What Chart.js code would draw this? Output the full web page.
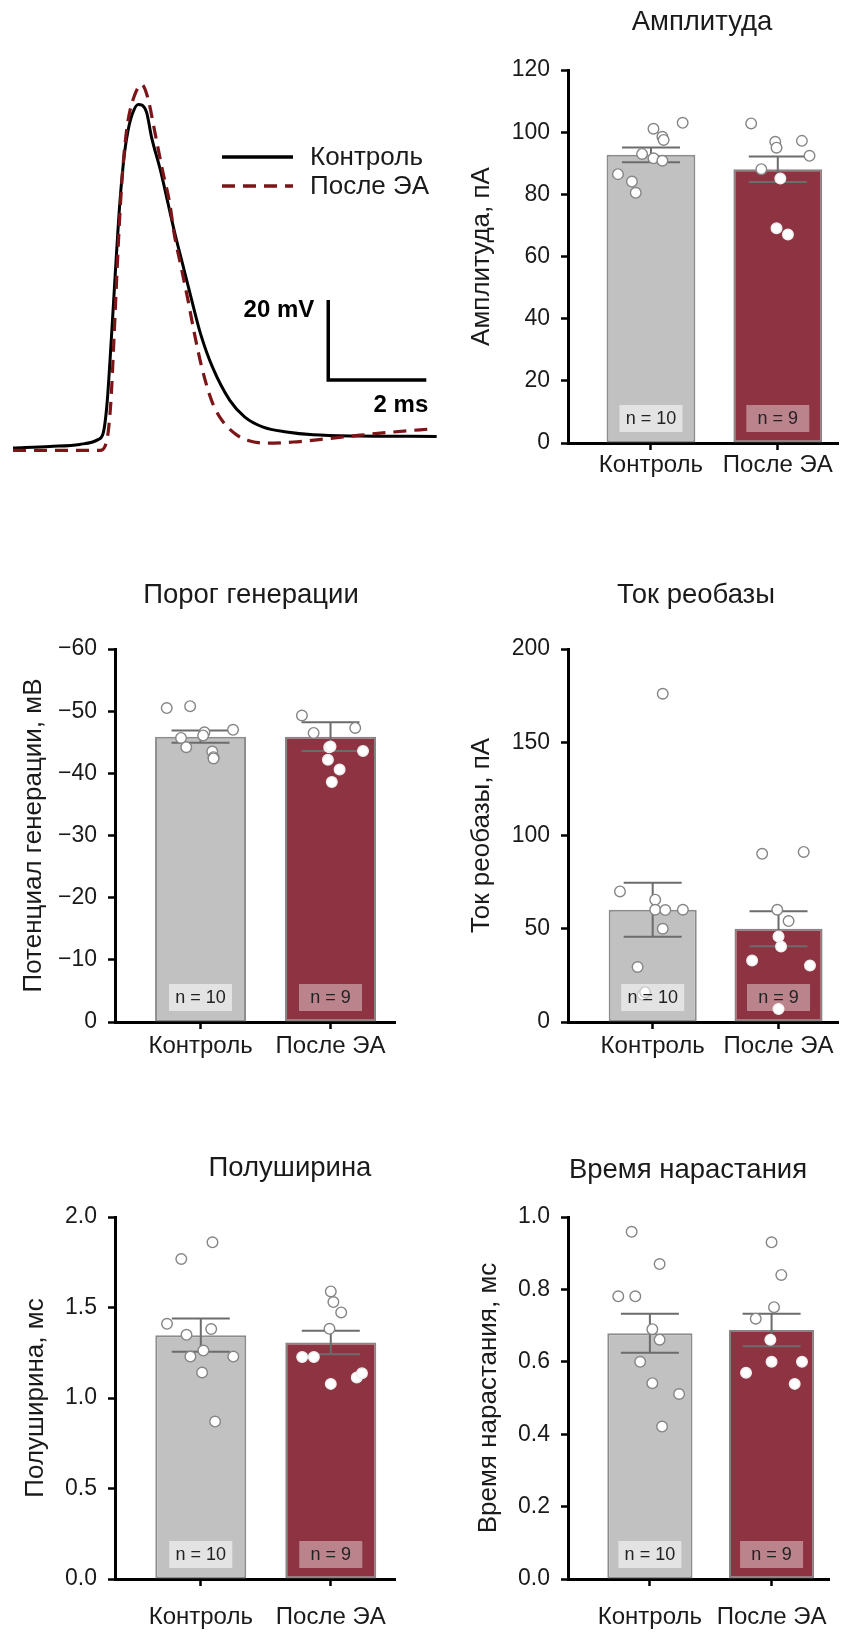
<!DOCTYPE html>
<html>
<head>
<meta charset="utf-8">
<script src="https://cdn.jsdelivr.net/npm/chart.js@4.4.1/dist/chart.umd.min.js"></script>
<style>
html, body { margin: 0; padding: 0; background: #fff; }
#page { position: relative; width: 845px; height: 1640px; overflow: hidden; background: #fff; }
#page canvas { position: absolute; }
</style>
</head>
<body>
<div id="page">
  <canvas id="trace"></canvas>
  <canvas id="amp"></canvas>
  <canvas id="thr"></canvas>
  <canvas id="rheo"></canvas>
  <canvas id="hw"></canvas>
  <canvas id="rise"></canvas>
</div>
<script>
// ---- data ----
const categories = ['Контроль', 'После ЭА'];
const nCounts = [10, 9];

// action potential traces, time in ms, voltage in mV
const controlTraceT = [0, 0.75, 1.36, 1.735, 1.837, 1.918, 2.008, 2.090, 2.178, 2.273, 2.347, 2.437, 2.551, 2.722, 2.824, 3.008, 3.163, 3.31, 3.48, 3.65, 3.824, 4.069, 4.422, 4.729, 5.102, 5.580, 6.122, 7.076, 8.641];
const controlTraceV = [-70, -69.6, -69.1, -67.9, -66.4, -58.9, -42.3, -25.6, -8.9, 3.6, 9.4, 13.6, 15.9, 14.0, 7.8, -0.6, -8.9, -16.8, -25.0, -33.3, -41.4, -49.8, -58.1, -62.3, -64.8, -66.0, -66.7, -67.0, -67.1];
const afterTraceT = [0, 1.769, 1.906, 1.994, 2.061, 2.122, 2.192, 2.265, 2.347, 2.469, 2.620, 2.743, 2.912, 3.049, 3.198, 3.29, 3.43, 3.57, 3.70, 3.85, 4.049, 4.218, 4.524, 4.796, 5.171, 5.714, 6.396, 7.076, 7.755, 8.571];
const afterTraceV = [-70.6, -70.6, -68.5, -58.9, -42.3, -25.6, -8.9, 3.6, 11.9, 17.8, 20.9, 17.8, 7.8, -0.6, -8.9, -16.6, -24.8, -33.1, -41.4, -49.8, -58.1, -62.3, -66.4, -68.1, -68.8, -68.5, -67.7, -66.8, -66.0, -65.2];
const scaleBarOrigin = [6.43, -53];   // ms, mV
const scaleBarSize = [2, 20];         // 2 ms, 20 mV

// Амплитуда, пА
const ampMean = [92.7, 88.1];
const ampSem = [2.4, 4.1];
const ampControl = [86.5, 84.1, 80.5, 93.0, 101.1, 98.5, 97.5, 91.6, 90.8, 103.0];
const ampAfter = [102.8, 96.9, 95.0, 97.2, 92.4, 88.1, 85.1, 69.1, 67.1];
const ampControlJitter = [-0.26, -0.15, -0.12, -0.07, 0.02, 0.09, 0.10, 0.02, 0.09, 0.25];
const ampAfterJitter = [-0.21, -0.02, -0.01, 0.19, 0.25, -0.13, 0.02, -0.01, 0.08];

// Порог генерации, мВ
const thrMean = [-45.9, -45.9];
const thrSem = [1.0, 2.3];
const thrControl = [-50.5, -50.8, -46.6, -47.0, -45.7, -46.1, -44.2, -43.5, -42.6, -42.4];
const thrAfter = [-49.3, -46.5, -47.3, -44.2, -43.6, -42.2, -40.6, -38.6, -44.3];
const thrControlJitter = [-0.26, -0.08, 0.03, 0.25, -0.15, 0.02, -0.11, 0.09, 0.10, 0.10];
const thrAfterJitter = [-0.22, -0.13, 0.19, -0.01, 0.25, -0.02, 0.07, 0.01, 0.0];

// Ток реобазы, пА
const rheoMean = [60.2, 50.0];
const rheoSem = [14.5, 9.4];
const rheoControl = [176.0, 70.0, 65.6, 60.2, 60.0, 60.2, 50.0, 29.5, 14.6, 16.0];
const rheoAfter = [90.2, 91.2, 60.2, 54.1, 45.9, 40.5, 33.0, 30.3, 7.0];
const rheoControlJitter = [0.08, -0.26, 0.02, 0.02, 0.10, 0.24, 0.08, -0.12, -0.08, -0.06];
const rheoAfterJitter = [-0.13, 0.20, -0.01, 0.08, 0, 0.02, -0.21, 0.25, 0];

// Полуширина, мс
const hwMean = [1.347, 1.307];
const hwSem = [0.092, 0.065];
const hwControl = [1.768, 1.860, 1.410, 1.349, 1.381, 1.262, 1.229, 1.229, 1.141, 0.870];
const hwAfter = [1.589, 1.530, 1.473, 1.382, 1.226, 1.226, 1.113, 1.137, 1.078];
const hwControlJitter = [-0.15, 0.09, -0.26, -0.11, 0.08, 0.02, -0.08, 0.25, 0.01, 0.11];
const hwAfterJitter = [0, 0.02, 0.08, -0.01, -0.22, -0.13, 0.20, 0.24, 0];

// Время нарастания, мс
const riseMean = [0.679, 0.688];
const riseSem = [0.054, 0.045];
const riseControl = [0.959, 0.870, 0.781, 0.781, 0.690, 0.661, 0.600, 0.541, 0.511, 0.421];
const riseAfter = [0.930, 0.840, 0.751, 0.719, 0.661, 0.570, 0.600, 0.600, 0.539];
const riseControlJitter = [-0.15, 0.08, -0.26, -0.12, 0.02, 0.08, -0.08, 0.02, 0.24, 0.10];
const riseAfterJitter = [0, 0.08, 0.02, -0.13, -0.01, -0.21, 0, 0.25, 0.19];

// ---- styling ----
const FONT = 'Arial, "Liberation Sans", sans-serif';
const barFill = ['#c1c1c1', '#8e3341'];
const barEdge = ['#8c8c8c', '#858585'];
const nBoxFill = ['rgba(255,255,255,0.55)', 'rgba(255,255,255,0.4)'];
const errColor = '#6c6c6c';
const Y_TITLE_SIZE = 26;

Chart.defaults.font.family = FONT;
Chart.defaults.color = '#1a1a1a';

// page layout of each bar panel (pixels)
const panels = [
  { id: 'amp', title: 'Амплитуда', yTitle: 'Амплитуда, пА',
    mean: ampMean, sem: ampSem, groups: [ampControl, ampAfter], jitter: [ampControlJitter, ampAfterJitter],
    yMin: 0, yMax: 120, yStep: 20, decimals: 0, reverse: false,
    box: { left: 440, top: 0, width: 405, height: 490 },
    axisX: 568, plotTop: 70, plotBottom: 443, xRight: 845, xMin: -0.654, xMax: 1.477,
    titleX: 702, titleY: 22, yTitleX: 482, catPad: 1 },
  { id: 'thr', title: 'Порог генерации', yTitle: 'Потенциал генерации, мВ',
    mean: thrMean, sem: thrSem, groups: [thrControl, thrAfter], jitter: [thrControlJitter, thrAfterJitter],
    yMin: -60, yMax: 0, yStep: 10, decimals: 0, reverse: true,
    box: { left: 0, top: 560, width: 420, height: 520 },
    axisX: 115, plotTop: 649, plotBottom: 1022, xRight: 395, xMin: -0.658, xMax: 1.496,
    titleX: 251, titleY: 595, yTitleX: 34, catPad: 3 },
  { id: 'rheo', title: 'Ток реобазы', yTitle: 'Ток реобазы, пА',
    mean: rheoMean, sem: rheoSem, groups: [rheoControl, rheoAfter], jitter: [rheoControlJitter, rheoAfterJitter],
    yMin: 0, yMax: 200, yStep: 50, decimals: 0, reverse: false,
    box: { left: 440, top: 560, width: 405, height: 520 },
    axisX: 568, plotTop: 649, plotBottom: 1022, xRight: 845, xMin: -0.673, xMax: 1.475,
    titleX: 696, titleY: 595, yTitleX: 482, catPad: 3 },
  { id: 'hw', title: 'Полуширина', yTitle: 'Полуширина, мс',
    mean: hwMean, sem: hwSem, groups: [hwControl, hwAfter], jitter: [hwControlJitter, hwAfterJitter],
    yMin: 0, yMax: 2, yStep: 0.5, decimals: 1, reverse: false,
    box: { left: 0, top: 1120, width: 420, height: 520 },
    axisX: 115, plotTop: 1217, plotBottom: 1579, xRight: 395, xMin: -0.66, xMax: 1.494,
    titleX: 290, titleY: 1168, yTitleX: 36, catPad: 17 },
  { id: 'rise', title: 'Время нарастания', yTitle: 'Время нарастания, мс',
    mean: riseMean, sem: riseSem, groups: [riseControl, riseAfter], jitter: [riseControlJitter, riseAfterJitter],
    yMin: 0, yMax: 1, yStep: 0.2, decimals: 1, reverse: false,
    box: { left: 440, top: 1120, width: 405, height: 520 },
    axisX: 568, plotTop: 1217, plotBottom: 1579, xRight: 845, xMin: -0.673, xMax: 1.475,
    titleX: 688, titleY: 1170, yTitleX: 489, catPad: 17 }
];

function placeCanvas(id, box) {
  const c = document.getElementById(id);
  c.width = box.width;
  c.height = box.height;
  c.style.left = box.left + 'px';
  c.style.top = box.top + 'px';
  return c;
}

// tick label with a real minus sign
const fmtTick = (v, decimals) => {
  const s = Math.abs(v).toFixed(decimals);
  return v < 0 ? '\u2212' + s : s;
};

// error bars, n-boxes and the panel title
function panelDecor(p) {
  return {
    id: 'decor_' + p.id,
    afterDatasetDraw(chart, args) {
      if (args.meta.type !== 'bar') return;
      const { ctx } = chart;
      const x = chart.scales.x, y = chart.scales.y;
      ctx.save();
      ctx.strokeStyle = errColor;
      ctx.lineWidth = 2;
      p.mean.forEach((m, i) => {
        const cx = x.getPixelForValue(i);
        const hi = y.getPixelForValue(m + p.sem[i]);
        const lo = y.getPixelForValue(m - p.sem[i]);
        ctx.beginPath();
        ctx.moveTo(cx, hi); ctx.lineTo(cx, lo);
        ctx.moveTo(cx - 29, hi); ctx.lineTo(cx + 29, hi);
        ctx.moveTo(cx - 29, lo); ctx.lineTo(cx + 29, lo);
        ctx.stroke();
      });
      ctx.restore();
    },
    afterDatasetsDraw(chart) {
      const { ctx } = chart;
      const x = chart.scales.x, y = chart.scales.y;
      const base = y.getPixelForValue(0);
      ctx.save();
      ctx.font = '18px ' + FONT;
      ctx.textAlign = 'center';
      ctx.textBaseline = 'middle';
      nCounts.forEach((n, i) => {
        const cx = x.getPixelForValue(i);
        ctx.fillStyle = nBoxFill[i];
        ctx.fillRect(cx - 31.5, base - 38, 63, 27);
        ctx.fillStyle = '#222';
        ctx.fillText('n = ' + n, cx, base - 24);
      });
      ctx.restore();
    },
    afterDraw(chart) {
      const { ctx } = chart;
      ctx.save();
      ctx.font = '27.5px ' + FONT;
      ctx.fillStyle = '#1a1a1a';
      ctx.textAlign = 'center';
      ctx.textBaseline = 'middle';
      ctx.fillText(p.title, p.titleX - p.box.left, p.titleY - p.box.top);
      ctx.restore();
    }
  };
}

function makePanel(p) {
  const b = p.box;
  const canvas = placeCanvas(p.id, b);
  const pts = (vals, jit, g) => vals.map((v, j) => ({ x: g + jit[j], y: v }));
  const axisLine = { display: true, color: '#000', width: 3 };
  const tickMarks = { drawOnChartArea: false, drawTicks: true, tickLength: 7, tickWidth: 2.5, tickColor: '#000', offset: false };
  return new Chart(canvas, {
    type: 'bar',
    data: {
      datasets: [
        { type: 'bar', order: 2, data: p.mean.map((m, i) => ({ x: i, y: m })),
          backgroundColor: barFill, borderColor: barEdge, borderWidth: 2, borderSkipped: false,
          categoryPercentage: 0.7, barPercentage: 1 },
        { type: 'scatter', order: 1, data: pts(p.groups[0], p.jitter[0], 0),
          pointRadius: 5.3, pointBorderWidth: 1.4, pointBackgroundColor: '#fff', pointBorderColor: '#858585' },
        { type: 'scatter', order: 1, data: pts(p.groups[1], p.jitter[1], 1),
          pointRadius: 5.3, pointBorderWidth: 1.4, pointBackgroundColor: '#fff',
          pointBorderColor: c => (c.raw && Math.abs(c.raw.y) < Math.abs(p.mean[1])) ? '#eeeeee' : '#858585' }
      ]
    },
    options: {
      responsive: false,
      animation: false,
      events: [],
      layout: { padding: { left: 0, top: p.plotTop - b.top, right: b.left + b.width - p.xRight, bottom: 0 } },
      plugins: { legend: { display: false }, tooltip: { enabled: false } },
      scales: {
        x: {
          type: 'linear', min: p.xMin, max: p.xMax, offset: false,
          afterBuildTicks: s => { s.ticks = categories.map((c, i) => ({ value: i })); },
          afterFit: s => { s.height = b.top + b.height - p.plotBottom; },
          ticks: { callback: v => categories[v], font: { size: 24 }, padding: p.catPad, maxRotation: 0, autoSkip: false, color: '#1a1a1a' },
          grid: tickMarks,
          border: axisLine
        },
        y: {
          type: 'linear', min: p.yMin, max: p.yMax, reverse: p.reverse,
          afterFit: s => { s.width = p.axisX - b.left; },
          ticks: { stepSize: p.yStep, callback: v => fmtTick(v, p.decimals), font: { size: 23 }, padding: 11, color: '#1a1a1a' },
          grid: tickMarks,
          border: axisLine,
          title: { display: true, text: p.yTitle, font: { size: Y_TITLE_SIZE }, color: '#1a1a1a',
                   padding: { top: p.yTitleX - b.left - Y_TITLE_SIZE * 0.6, bottom: 0 } }
        }
      }
    },
    plugins: [panelDecor(p)]
  });
}

panels.forEach(makePanel);

// ---- action potential panel ----
const traceBox = { left: 0, top: 60, width: 445, height: 405 };
const legendLayout = { x0: 222, x1: 293, textX: 310, rows: [97, 126] };

const traceDecor = {
  id: 'traceDecor',
  afterDraw(chart) {
    const { ctx } = chart;
    const x = chart.scales.x, y = chart.scales.y;
    ctx.save();
    // legend
    ctx.font = '26px ' + FONT;
    ctx.textBaseline = 'middle';
    ctx.textAlign = 'left';
    [0, 1].forEach(i => {
      const ds = chart.data.datasets[i];
      const yy = legendLayout.rows[i];
      ctx.strokeStyle = ds.borderColor;
      ctx.lineWidth = 3.5;
      ctx.setLineDash(ds.borderDash || []);
      ctx.beginPath();
      ctx.moveTo(legendLayout.x0, yy);
      ctx.lineTo(legendLayout.x1, yy);
      ctx.stroke();
      ctx.setLineDash([]);
      ctx.fillStyle = '#1a1a1a';
      ctx.fillText(ds.label, legendLayout.textX, yy + 1);
    });
    // scale bar labels
    ctx.font = 'bold 24px ' + FONT;
    ctx.fillStyle = '#000';
    ctx.textAlign = 'right';
    const px0 = x.getPixelForValue(scaleBarOrigin[0]);
    const px1 = x.getPixelForValue(scaleBarOrigin[0] + scaleBarSize[0]);
    const pyTop = y.getPixelForValue(scaleBarOrigin[1] + scaleBarSize[1]);
    const pyBot = y.getPixelForValue(scaleBarOrigin[1]);
    ctx.fillText(scaleBarSize[1] + ' mV', px0 - 14, pyTop + 10);
    ctx.fillText(scaleBarSize[0] + ' ms', px1 + 2, pyBot + 25);
    ctx.restore();
  }
};

new Chart(placeCanvas('trace', traceBox), {
  type: 'line',
  data: {
    datasets: [
      { label: 'Контроль', order: 2, data: controlTraceT.map((t, i) => ({ x: t, y: controlTraceV[i] })),
        borderColor: '#000', borderWidth: 3, pointRadius: 0, cubicInterpolationMode: 'monotone', clip: false },
      { label: 'После ЭА', order: 1, data: afterTraceT.map((t, i) => ({ x: t, y: afterTraceV[i] })),
        borderColor: '#7b1518', borderWidth: 3.2, borderDash: [13, 8], pointRadius: 0, cubicInterpolationMode: 'monotone', clip: false },
      { label: 'scale', order: 3,
        data: [
          { x: scaleBarOrigin[0], y: scaleBarOrigin[1] + scaleBarSize[1] },
          { x: scaleBarOrigin[0], y: scaleBarOrigin[1] },
          { x: scaleBarOrigin[0] + scaleBarSize[0], y: scaleBarOrigin[1] }
        ],
        borderColor: '#000', borderWidth: 3.5, pointRadius: 0, tension: 0, borderJoinStyle: 'miter', clip: false }
    ]
  },
  options: {
    responsive: false,
    animation: false,
    events: [],
    layout: { padding: { left: 13, top: 8, right: 3, bottom: 9 } },
    plugins: { legend: { display: false }, tooltip: { enabled: false } },
    scales: {
      x: { type: 'linear', min: 0, max: 8.75, display: false },
      y: { type: 'linear', min: -72, max: 25, display: false }
    }
  },
  plugins: [traceDecor]
});
</script>
</body>
</html>
